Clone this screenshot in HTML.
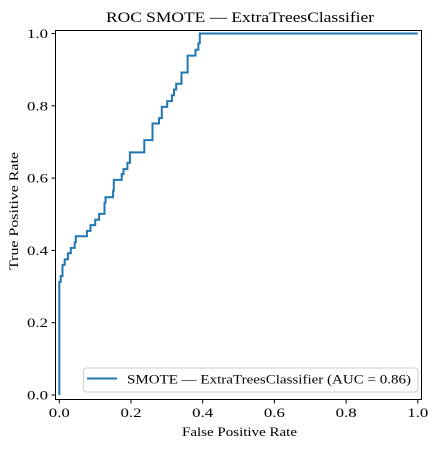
<!DOCTYPE html>
<html><head><meta charset="utf-8"><style>
html,body{margin:0;padding:0;background:#fff;}
svg{display:block;font-family:"Liberation Serif",serif;}
</style></head><body>
<svg id="chart" width="440" height="449">
<rect width="440" height="449" fill="#fff"/>
<text x="240" y="22" font-size="15" text-anchor="middle" textLength="268" lengthAdjust="spacingAndGlyphs">ROC SMOTE — ExtraTreesClassifier</text>
<g id="ticks"></g>
<path id="curve" fill="none" stroke="#1f77b4" stroke-width="2"/>
<rect x="55.5" y="30.5" width="366" height="369" fill="none" stroke="#000" stroke-width="1"/>
<text x="239.5" y="436" font-size="13" text-anchor="middle" textLength="115" lengthAdjust="spacingAndGlyphs">False Positive Rate</text>
<text transform="translate(18,211) rotate(-90)" font-size="13" text-anchor="middle" textLength="118" lengthAdjust="spacingAndGlyphs">True Positive Rate</text>
<g>
<rect x="83.5" y="368" width="334.5" height="24" rx="3" fill="#fff" stroke="#ccc" stroke-width="1"/>
<line x1="87" y1="378.5" x2="117" y2="378.5" stroke="#1f77b4" stroke-width="2"/>
<text x="127" y="383.5" font-size="12.5" textLength="284" lengthAdjust="spacingAndGlyphs">SMOTE — ExtraTreesClassifier (AUC = 0.86)</text>
</g>
</svg>
<script>
const fpr=[0,0,0.004,0.004,0.009,0.009,0.015,0.015,0.024,0.024,0.032,0.032,0.043,0.043,0.046,0.046,0.077,0.077,0.087,0.087,0.1,0.1,0.111,0.111,0.126,0.126,0.129,0.129,0.15,0.15,0.152,0.152,0.174,0.174,0.179,0.179,0.19,0.19,0.197,0.197,0.237,0.237,0.26,0.26,0.278,0.278,0.286,0.286,0.301,0.301,0.314,0.314,0.32,0.32,0.326,0.326,0.341,0.341,0.358,0.358,0.38,0.38,0.388,0.388,0.392,0.392,1];
const tpr=[0,0.313,0.313,0.329,0.329,0.36,0.36,0.375,0.375,0.392,0.392,0.407,0.407,0.422,0.422,0.439,0.439,0.454,0.454,0.47,0.47,0.485,0.485,0.501,0.501,0.532,0.532,0.547,0.547,0.565,0.565,0.595,0.595,0.611,0.611,0.625,0.625,0.642,0.642,0.671,0.671,0.705,0.705,0.751,0.751,0.766,0.766,0.797,0.797,0.813,0.813,0.829,0.829,0.845,0.845,0.861,0.861,0.892,0.892,0.939,0.939,0.955,0.955,0.973,0.973,1,1];
const xTicks=[0,0.2,0.4,0.6,0.8,1.0];
const yTicks=[0,0.2,0.4,0.6,0.8,1.0];
const sx=v=>59.3+v*358.5, sy=v=>395-v*361.5;
const NS='http://www.w3.org/2000/svg';
let d='';fpr.forEach((f,i)=>{d+=(i?'L':'M')+sx(f).toFixed(1)+','+sy(tpr[i]).toFixed(1);});
document.getElementById('curve').setAttribute('d',d);
const g=document.getElementById('ticks');
xTicks.forEach(t=>{
 const l=document.createElementNS(NS,'line');
 l.setAttribute('x1',sx(t));l.setAttribute('x2',sx(t));l.setAttribute('y1',399.5);l.setAttribute('y2',403.5);l.setAttribute('stroke','#000');
 
 
 g.appendChild(l);
 const tx=document.createElementNS(NS,'text');
 tx.setAttribute('x',sx(t));tx.setAttribute('y',417);tx.setAttribute('font-size','12.5');tx.setAttribute('text-anchor','middle');
 tx.setAttribute('textLength','21');tx.setAttribute('lengthAdjust','spacingAndGlyphs');
 tx.textContent=t.toFixed(1);
 
 
 g.appendChild(tx);
});
yTicks.forEach(t=>{
 const l=document.createElementNS(NS,'line');
 l.setAttribute('x1',51.5);l.setAttribute('x2',55.5);l.setAttribute('y1',sy(t));l.setAttribute('y2',sy(t));l.setAttribute('stroke','#000');
 
 
 g.appendChild(l);
 const tx=document.createElementNS(NS,'text');
 tx.setAttribute('x',48);tx.setAttribute('y',sy(t)+4.5);tx.setAttribute('font-size','12.5');tx.setAttribute('text-anchor','end');
 tx.setAttribute('textLength','21');tx.setAttribute('lengthAdjust','spacingAndGlyphs');
 tx.textContent=t.toFixed(1);
 
 
 g.appendChild(tx);
});
</script>
</body></html>
